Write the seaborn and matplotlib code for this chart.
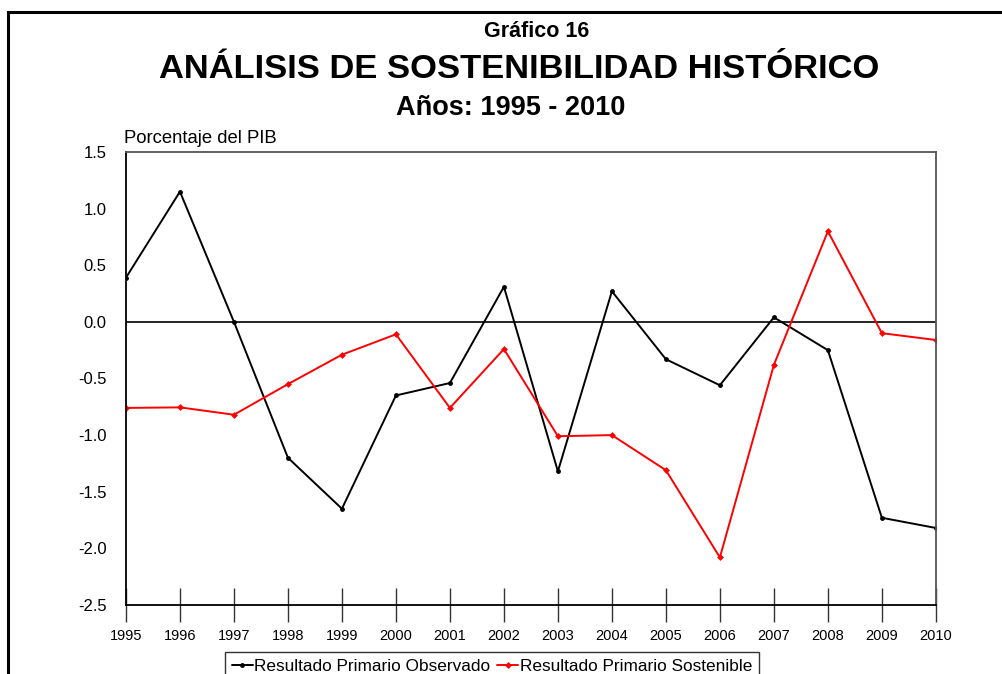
import pandas as pd
import seaborn as sns
import matplotlib.pyplot as plt
from matplotlib.patches import Rectangle

years = list(range(1995, 2011))
observado = [0.39, 1.15, 0.00, -1.20, -1.65, -0.65, -0.54, 0.31,
             -1.32, 0.27, -0.33, -0.56, 0.04, -0.25, -1.73, -1.82]
sostenible = [-0.76, -0.755, -0.82, -0.55, -0.29, -0.11, -0.76, -0.24,
              -1.01, -1.00, -1.31, -2.08, -0.38, 0.80, -0.10, -0.16]
series_names = ["Resultado Primario Observado", "Resultado Primario Sostenible"]

df = pd.DataFrame({
    "Año": years * 2,
    "Valor": observado + sostenible,
    "Serie": [series_names[0]] * len(years) + [series_names[1]] * len(years),
})

sns.set_style("white")
plt.rcParams['font.family'] = ['Liberation Sans', 'DejaVu Sans']
plt.rcParams['text.color'] = 'black'
plt.rcParams['xtick.color'] = 'black'
plt.rcParams['ytick.color'] = 'black'

fig = plt.figure(figsize=(10.02, 6.74), dpi=100)
ax = fig.add_axes([0.1257, 0.1024, 0.8083, 0.6721])

sns.lineplot(data=df, x="Año", y="Valor", hue="Serie", style="Serie",
             palette={series_names[0]: "black", series_names[1]: "red"},
             markers={series_names[0]: "o", series_names[1]: "D"},
             dashes=False, linewidth=1.4, markersize=3.5, markeredgewidth=0,
             ax=ax)

ax.axhline(0, color="black", linewidth=1.2, zorder=1)

ax.set_xlim(1995, 2010)
ax.set_ylim(-2.5, 1.5)
ax.set_xticks(years)
ax.set_yticks([-2.5, -2.0, -1.5, -1.0, -0.5, 0.0, 0.5, 1.0, 1.5])
ax.set_yticklabels([f"{v:.1f}" for v in ax.get_yticks()], fontsize=12)
ax.set_xticklabels([str(y) for y in years], fontsize=10.5)
ax.tick_params(axis="x", bottom=True, direction="inout", length=24, width=1,
               color="#333333", pad=5)
ax.tick_params(axis="y", left=False, length=0, pad=14)
ax.set_xlabel("")
ax.set_ylabel("")
for side in ["left", "bottom"]:
    ax.spines[side].set_color("black")
    ax.spines[side].set_linewidth(1.3)
for side in ["top", "right"]:
    ax.spines[side].set_color("#555555")
    ax.spines[side].set_linewidth(1.3)

ax.text(-0.002, 1.012, "Porcentaje del PIB", transform=ax.transAxes,
        fontsize=13.3, ha="left", va="bottom")

fig.text(0.5355, 0.953, "Gráfico 16", fontsize=15.5, fontweight="bold", ha="center", va="center")
fig.text(0.5185, 0.897, "ANÁLISIS DE SOSTENIBILIDAD HISTÓRICO", fontsize=24.8,
         fontweight="bold", ha="center", va="center")
fig.text(0.5095, 0.840, "Años: 1995 - 2010", fontsize=19.5, fontweight="bold",
         ha="center", va="center")

fig.patches.append(Rectangle((0.008, -0.05), 1.05, 1.032, transform=fig.transFigure,
                             fill=False, edgecolor="black", linewidth=2.2))

handles, labels = ax.get_legend_handles_labels()
ax.get_legend().remove()
leg = fig.legend(handles, labels, loc="upper center", bbox_to_anchor=(0.491, 0.033),
                 ncol=2, fontsize=12.4, frameon=True, fancybox=False,
                 handlelength=1.2, handletextpad=0.1, columnspacing=0.4,
                 borderpad=0.4, borderaxespad=0)
leg.get_frame().set_edgecolor("black")
leg.get_frame().set_linewidth(1.0)

fig.savefig("out.png", dpi=100)
